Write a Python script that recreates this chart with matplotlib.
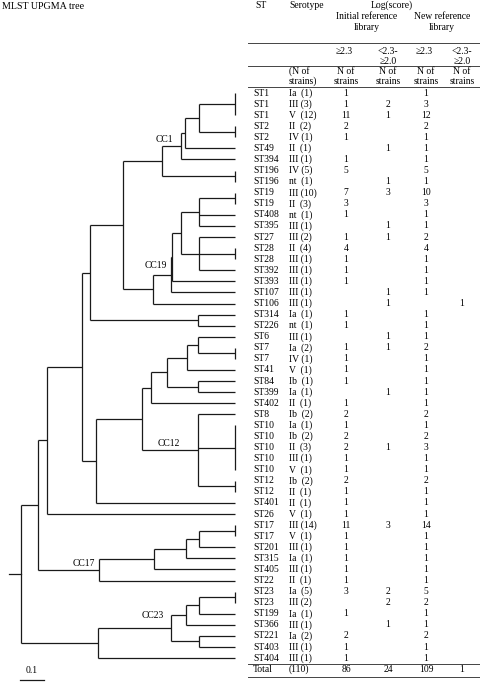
import matplotlib
matplotlib.use("Agg")
import matplotlib.pyplot as plt

# ---------------- data ----------------
st_labels = ["ST1", "ST1", "ST1", "ST2", "ST2", "ST49", "ST394", "ST196", "ST196",
             "ST19", "ST19", "ST408", "ST395", "ST27", "ST28", "ST28", "ST392", "ST393",
             "ST107", "ST106", "ST314", "ST226", "ST6", "ST7", "ST7", "ST41", "ST84",
             "ST399", "ST402", "ST8", "ST10", "ST10", "ST10", "ST10", "ST10", "ST12",
             "ST12", "ST401", "ST26", "ST17", "ST17", "ST201", "ST315", "ST405", "ST22",
             "ST23", "ST23", "ST199", "ST366", "ST221", "ST403", "ST404"]
serotypes = ["Ia", "III", "V", "II", "IV", "II", "III", "IV", "nt",
             "III", "II", "nt", "III", "III", "II", "III", "III", "III",
             "III", "III", "Ia", "nt", "III", "Ia", "IV", "V", "Ib",
             "Ia", "II", "Ib", "Ia", "Ib", "II", "III", "V", "Ib",
             "II", "II", "V", "III", "V", "III", "Ia", "III", "II",
             "Ia", "III", "Ia", "III", "Ia", "III", "III"]
n_strains = [1, 3, 12, 2, 1, 1, 1, 5, 1,
             10, 3, 1, 1, 2, 4, 1, 1, 1,
             1, 1, 1, 1, 1, 2, 1, 1, 1,
             1, 1, 2, 1, 2, 3, 1, 1, 2,
             1, 1, 1, 14, 1, 1, 1, 1, 1,
             5, 2, 1, 1, 2, 1, 1]
init_ge23 = [1, 1, 11, 2, 1, None, 1, 5, None,
             7, 3, 1, None, 1, 4, 1, 1, 1,
             None, None, 1, 1, None, 1, 1, 1, 1,
             None, 1, 2, 1, 2, 2, 1, 1, 2,
             1, 1, 1, 11, 1, 1, 1, 1, 1,
             3, None, 1, None, 2, 1, 1]
init_20_23 = [None, 2, 1, None, None, 1, None, None, 1,
              3, None, None, 1, 1, None, None, None, None,
              1, 1, None, None, 1, 1, None, None, None,
              1, None, None, None, None, 1, None, None, None,
              None, None, None, 3, None, None, None, None, None,
              2, 2, None, 1, None, None, None]
new_ge23 = [1, 3, 12, 2, 1, 1, 1, 5, 1,
            10, 3, 1, 1, 2, 4, 1, 1, 1,
            1, None, 1, 1, 1, 2, 1, 1, 1,
            1, 1, 2, 1, 2, 3, 1, 1, 2,
            1, 1, 1, 14, 1, 1, 1, 1, 1,
            5, 2, 1, 1, 2, 1, 1]
new_20_23 = [None] * 19 + [1] + [None] * 32

# UPGMA tree: [merge distance, children...]; integers are table rows
cc1 = [0.299, [0.222, [0.206, [0.147, [0, 0, 1, 2], [0, 3, 4]], 5], 6], [0, 7, 8]]
cc19 = [0.339, [0.265, [0.260, [0.222, [0.147, [0, 9, 10], 11, 12],
                                 [0.147, 13, [0, 14, 15], 16]], 17], 18], 19]
grp_a = [0.598, [0.462, cc1, cc19], [0.151, 20, 21]]
grp_g = [0.346, [0.281, [0.199, [0.151, 22, [0, 23, 24]], 25], [0.151, 26, 27]], 28]
cc12 = [0.384, grp_g, [0.151, 29, [0, 30, 31, 32, 33, 34], [0, 35, 36]]]
grp_e = [0.775, [0.628, grp_a, [0.572, cc12, 37]], 38]
cc17 = [0.561, [0.333, [0.202, [0.148, [0, 39, 40], 41], 42], 43], 44]
cc23 = [0.565, [0.263, [0.202, [0.148, [0, 45, 46], 47], 48], [0.148, 49, 50]], 51]
tree = [0.882, [0.812, grp_e, cc17], cc23]
root_stub = 0.929
scale_len = 0.1

# ---------------- layout ----------------
plt.rcParams['font.family'] = ['Liberation Serif', 'DejaVu Serif']
FS = 6.9
W, H = 480, 686
ROW0, ROWH = 93.0, 11.08
LEAF_PX, PX_PER_UNIT = 235.0, 243.0


def ry(py):
    return (py - ROW0) / ROWH


fig = plt.figure(figsize=(W / 100, H / 100), dpi=100)
ax_t = fig.add_axes([0, 0, 1, 1])
ax_t.set_xlim(LEAF_PX / PX_PER_UNIT, (LEAF_PX - W) / PX_PER_UNIT)
ax_t.set_ylim(ry(H), ry(0))
ax_t.axis('off')

ax = fig.add_axes([0, 0, 1, 1])
ax.set_xlim(0, W)
ax.set_ylim(ry(H), ry(0))
ax.axis('off')
ax.patch.set_alpha(0)

LC, LW = '#1a1a1a', 0.9


def draw(node):
    if isinstance(node, int):
        return float(node), 0.0
    h = node[0]
    kids = [draw(c) for c in node[1:]]
    ys = [k[0] for k in kids]
    lo, hi = min(ys), max(ys)
    ax_t.plot([h, h], [lo, hi], color=LC, lw=LW, solid_capstyle='butt')
    for y, ch in kids:
        if ch != h:
            ax_t.plot([h, ch], [y, y], color=LC, lw=LW, solid_capstyle='butt')
    return (lo + hi) / 2, h


ry_root, h_root = draw(tree)
ax_t.plot([root_stub, h_root], [ry_root, ry_root], color=LC, lw=LW)

# scale bar
sb_right = (LEAF_PX - 44.3) / PX_PER_UNIT
ax_t.plot([sb_right + scale_len, sb_right], [ry(680), ry(680)], color=LC, lw=LW)
ax_t.text(sb_right + scale_len / 2, ry(670.5), f"{scale_len:g}", ha='center', va='center', fontsize=FS)

# cluster labels
for lab, px, py in [("CC1", 164, 139), ("CC19", 156, 266), ("CC12", 169, 443),
                    ("CC17", 84, 564), ("CC23", 153, 615)]:
    ax.text(px, ry(py), lab, ha='center', va='center', fontsize=FS)

ax.text(2, ry(6.5), "MLST UPGMA tree", ha='left', va='center', fontsize=FS + 0.3)

# ---------------- table ----------------
X_ST, X_SERO = 253, 289
X_COLS = [346, 388, 426, 462]

ax.text(X_ST + 2, ry(5.5), "ST", ha='left', va='center', fontsize=FS)
ax.text(X_SERO, ry(5.5), "Serotype", ha='left', va='center', fontsize=FS)
ax.text(392, ry(5.5), "Log(score)", ha='center', va='center', fontsize=FS)
ax.text(367, ry(16.5), "Initial reference", ha='center', va='center', fontsize=FS)
ax.text(367, ry(27), "library", ha='center', va='center', fontsize=FS)
ax.text(442, ry(16.5), "New reference", ha='center', va='center', fontsize=FS)
ax.text(442, ry(27), "library", ha='center', va='center', fontsize=FS)
for i, x in enumerate(X_COLS):
    if i % 2 == 0:
        ax.text(x - 2, ry(51), "≥2.3", ha='center', va='center', fontsize=FS)
    else:
        ax.text(x, ry(51), "<2.3-", ha='center', va='center', fontsize=FS)
        ax.text(x, ry(61), "≥2.0", ha='center', va='center', fontsize=FS)
    ax.text(x, ry(71.5), "N of", ha='center', va='center', fontsize=FS)
    ax.text(x, ry(81), "strains", ha='center', va='center', fontsize=FS)
ax.text(X_SERO, ry(71.5), "(N of", ha='left', va='center', fontsize=FS)
ax.text(X_SERO, ry(81), "strains)", ha='left', va='center', fontsize=FS)

TLC, TLW = '#444444', 0.7
for py in (43, 66, 87, 663.5, 676.5):
    ax.plot([248, W], [ry(py), ry(py)], color=TLC, lw=TLW)

cols = [init_ge23, init_20_23, new_ge23, new_20_23]
for r, (st, s, n) in enumerate(zip(st_labels, serotypes, n_strains)):
    ax.text(X_ST, r, st, ha='left', va='center', fontsize=FS)
    gap = ' ' if s in ('III', 'IV') else '  '
    ax.text(X_SERO, r, f"{s}{gap}({n})", ha='left', va='center', fontsize=FS)
    for x, col in zip(X_COLS, cols):
        if col[r] is not None:
            ax.text(x, r, str(col[r]), ha='center', va='center', fontsize=FS)

tot_row = len(st_labels)
ax.text(X_ST, tot_row, "Total", ha='left', va='center', fontsize=FS)
ax.text(X_SERO, tot_row, f"({sum(n_strains)})", ha='left', va='center', fontsize=FS)
for x, col in zip(X_COLS, cols):
    ax.text(x, tot_row, str(sum(v for v in col if v is not None)), ha='center', va='center', fontsize=FS)

fig.savefig("out.png", dpi=100, facecolor='white')
